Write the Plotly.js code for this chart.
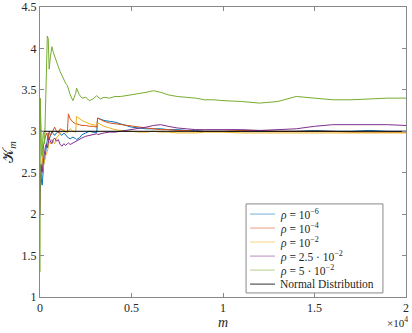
<!DOCTYPE html>
<html>
<head>
<meta charset="utf-8">
<script src="https://cdn.plot.ly/plotly-3.0.1.min.js"></script>
<style>
  html, body { margin: 0; padding: 0; background: #fff; }
  #chart { width: 412px; height: 333px; }
</style>
</head>
<body>
<div id="chart"></div>
<script>
// sample index m (shared by all rho series)
const M = [1, 20, 50, 80, 120, 160, 200, 250, 300, 350,
  400, 450, 500, 570, 650, 730, 800, 900, 1000, 1100,
  1200, 1300, 1400, 1500, 1550, 1650, 1800, 1950, 2000, 2150,
  2300, 2500, 2700, 2900, 3100, 3150, 3300, 3500, 3800, 4100,
  4400, 4700, 5000, 5400, 5800, 6200, 6600, 7000, 7500, 8000,
  8500, 9000, 9500, 10000, 11000, 12000, 13000, 14000, 15000, 16000,
  17000, 18000, 19000, 20000];

const K_RHO_1E6 = [2.6, 2.5, 2.45, 2.4, 2.35, 2.5, 2.6, 2.65, 2.75, 2.85,
  2.95, 2.98, 2.9, 2.95, 3.0, 2.97, 2.95, 2.98, 3.0, 2.97,
  2.95, 2.98, 2.95, 2.93, 2.92, 2.91, 2.93, 2.91, 2.9, 2.92,
  2.96, 2.98, 3.0, 2.99, 2.98, 3.16, 3.15, 3.13, 3.12, 3.11,
  3.09, 3.07, 3.05, 3.04, 3.03, 3.03, 3.03, 3.02, 3.02, 3.01,
  3.01, 3.0, 3.0, 3.0, 3.0, 3.0, 3.0, 3.0, 3.01, 3.0,
  3.0, 3.01, 3.0, 3.0];

const K_RHO_1E4 = [2.3, 2.5, 2.45, 2.55, 2.6, 2.7, 2.85, 2.9, 2.95, 2.98,
  2.95, 2.9, 3.0, 2.95, 2.98, 3.02, 3.05, 3.0, 2.98, 3.03,
  3.02, 3.0, 2.99, 3.0, 3.21, 3.15, 3.11, 3.09, 3.09, 3.08,
  3.07, 3.07, 3.06, 3.06, 3.05, 3.16, 3.14, 3.12, 3.1, 3.09,
  3.08, 3.07, 3.06, 3.05, 3.04, 3.03, 3.02, 3.02, 3.01, 3.01,
  3.0, 3.0, 3.0, 3.0, 3.01, 3.01, 3.0, 3.0, 3.0, 3.0,
  2.99, 2.99, 2.99, 2.99];

const K_RHO_1E2 = [3.0, 3.25, 3.1, 2.8, 2.6, 2.55, 2.6, 2.65, 2.7, 2.72,
  2.75, 2.8, 2.88, 2.85, 2.9, 2.88, 2.85, 2.92, 2.95, 2.97,
  3.0, 3.02, 3.0, 2.98, 3.0, 3.03, 3.0, 2.99, 3.18, 3.15,
  3.13, 3.11, 3.09, 3.08, 3.07, 3.1, 3.08, 3.06, 3.04, 3.02,
  3.01, 3.0, 3.0, 2.99, 2.99, 3.0, 2.99, 2.99, 2.98, 2.98,
  2.98, 2.99, 2.99, 2.99, 2.98, 2.98, 2.98, 2.98, 2.98, 2.98,
  2.98, 2.98, 2.98, 2.98];

const K_RHO_25E3 = [2.0, 2.3, 2.6, 2.55, 2.5, 2.6, 2.7, 2.75, 2.82, 2.85,
  2.8, 2.88, 2.92, 2.88, 2.85, 2.9, 2.92, 2.88, 2.9, 2.84,
  2.82, 2.85, 2.83, 2.85, 2.86, 2.84, 2.86, 2.88, 2.89, 2.9,
  2.92, 2.94, 2.95, 2.96, 2.97, 2.96, 2.97, 2.98, 2.99, 2.99,
  3.0, 3.01, 3.02, 3.03, 3.05, 3.07, 3.08, 3.06, 3.04, 3.03,
  3.02, 3.02, 3.02, 3.02, 3.02, 3.01, 3.02, 3.03, 3.06, 3.08,
  3.08, 3.08, 3.08, 3.07];

const K_RHO_5E2 = [1.3, 3.4, 2.85, 2.75, 2.7, 2.95, 3.0, 2.85, 3.2, 3.6,
  4.15, 4.12, 3.75, 3.9, 4.02, 3.95, 3.9, 3.85, 3.78, 3.72,
  3.67, 3.63, 3.58, 3.55, 3.5, 3.44, 3.37, 3.46, 3.52, 3.44,
  3.4, 3.41, 3.37, 3.39, 3.43, 3.42, 3.39, 3.41, 3.4, 3.42,
  3.42, 3.43, 3.44, 3.46, 3.47, 3.49, 3.47, 3.44, 3.42, 3.41,
  3.4, 3.38, 3.38, 3.37, 3.36, 3.34, 3.36, 3.42, 3.4, 3.38,
  3.38, 3.39, 3.4, 3.4];

// reference kurtosis of a normal distribution
const M_NORMAL = [1, 20000];
const K_NORMAL = [3, 3];

const LABELS = ['<i>ρ</i> = 10<sup>−6</sup>', '<i>ρ</i> = 10<sup>−4</sup>', '<i>ρ</i> = 10<sup>−2</sup>',
  '<i>ρ</i> = 2.5 · 10<sup>−2</sup>', '<i>ρ</i> = 5 · 10<sup>−2</sup>', 'Normal Distribution'];
const COLORS = ['#0072BD', '#D95319', '#EDB120', '#7E2F8E', '#77AC30', '#000000'];

const X_TICKS = [0, 5000, 10000, 15000, 20000];
const X_TICK_TEXT = ['0', '0.5', '1', '1.5', '2'];
const Y_TICKS = [1, 1.5, 2, 2.5, 3, 3.5, 4, 4.5];
const Y_TICK_TEXT = ['1', '1.5', '2', '2.5', '3', '3.5', '4', '4.5'];

const series = [K_RHO_1E6, K_RHO_1E4, K_RHO_1E2, K_RHO_25E3, K_RHO_5E2];
const traces = series.map((ys, i) => ({
    x: M, y: ys, type: 'scatter', mode: 'lines', name: LABELS[i],
    line: { color: COLORS[i], width: 1 }
}));
traces.push({
    x: M_NORMAL, y: K_NORMAL, type: 'scatter', mode: 'lines', name: LABELS[5],
    line: { color: COLORS[5], width: 1 }
});

const serif = 'Liberation Serif, DejaVu Serif, serif';
const txt = '#262626';
const axisCommon = {
    showline: true, linecolor: '#888', linewidth: 1, mirror: 'ticks',
    ticks: 'inside', ticklen: 4, tickcolor: '#888', tickwidth: 1,
    showgrid: false, zeroline: false, automargin: false,
    tickfont: { family: serif, size: 12, color: txt }
};

// MATLAB-style legend box, built as paper shapes + annotations
// (plotly's own legend rows are too tall for this compact box)
const LEG = { x0: 0.563, x1: 0.937, y0: 0.014, y1: 0.321, top: 0.286, step: 0.0483 };
const shapes = [{
    type: 'rect', xref: 'paper', yref: 'paper', layer: 'above',
    x0: LEG.x0, x1: LEG.x1, y0: LEG.y0, y1: LEG.y1,
    line: { color: '#888', width: 1 }, fillcolor: '#fff'
}];
const annotations = [];
LABELS.forEach((lab, i) => {
    const yy = LEG.top - i * LEG.step;
    shapes.push({
        type: 'line', xref: 'paper', yref: 'paper', layer: 'above',
        x0: LEG.x0 + 0.011, x1: LEG.x0 + 0.079, y0: yy, y1: yy,
        line: { color: COLORS[i], width: 1 }, opacity: i === 5 ? 0.8 : 0.55
    });
    annotations.push({
        text: lab, xref: 'paper', yref: 'paper', x: LEG.x0 + 0.086, y: yy,
        xanchor: 'left', yanchor: 'middle', showarrow: false,
        font: { family: serif, size: 11.5, color: txt }
    });
});
annotations.push({
    text: '×10<sup>4</sup>', xref: 'paper', yref: 'paper', x: 1.012, y: -0.055,
    xanchor: 'right', yanchor: 'top', showarrow: false,
    font: { family: serif, size: 11, color: txt }
});

const layout = {
    width: 412, height: 333,
    paper_bgcolor: '#fff', plot_bgcolor: '#fff',
    margin: { t: 7, l: 40, r: 6, b: 36 },
    showlegend: false,
    xaxis: Object.assign({}, axisCommon, {
        range: [0, 20000], tickvals: X_TICKS, ticktext: X_TICK_TEXT,
        title: { text: '<i>m</i>', font: { family: serif, size: 14, color: txt }, standoff: 2 }
    }),
    yaxis: Object.assign({}, axisCommon, {
        range: [1, 4.5], tickvals: Y_TICKS, ticktext: Y_TICK_TEXT,
        title: { text: '𝒦<sub><i>m</i></sub>', font: { family: serif, size: 15, color: txt }, standoff: 13 }
    }),
    shapes: shapes,
    annotations: annotations
};

Plotly.newPlot('chart', traces, layout, { displayModeBar: false, staticPlot: true });
</script>
</body>
</html>
